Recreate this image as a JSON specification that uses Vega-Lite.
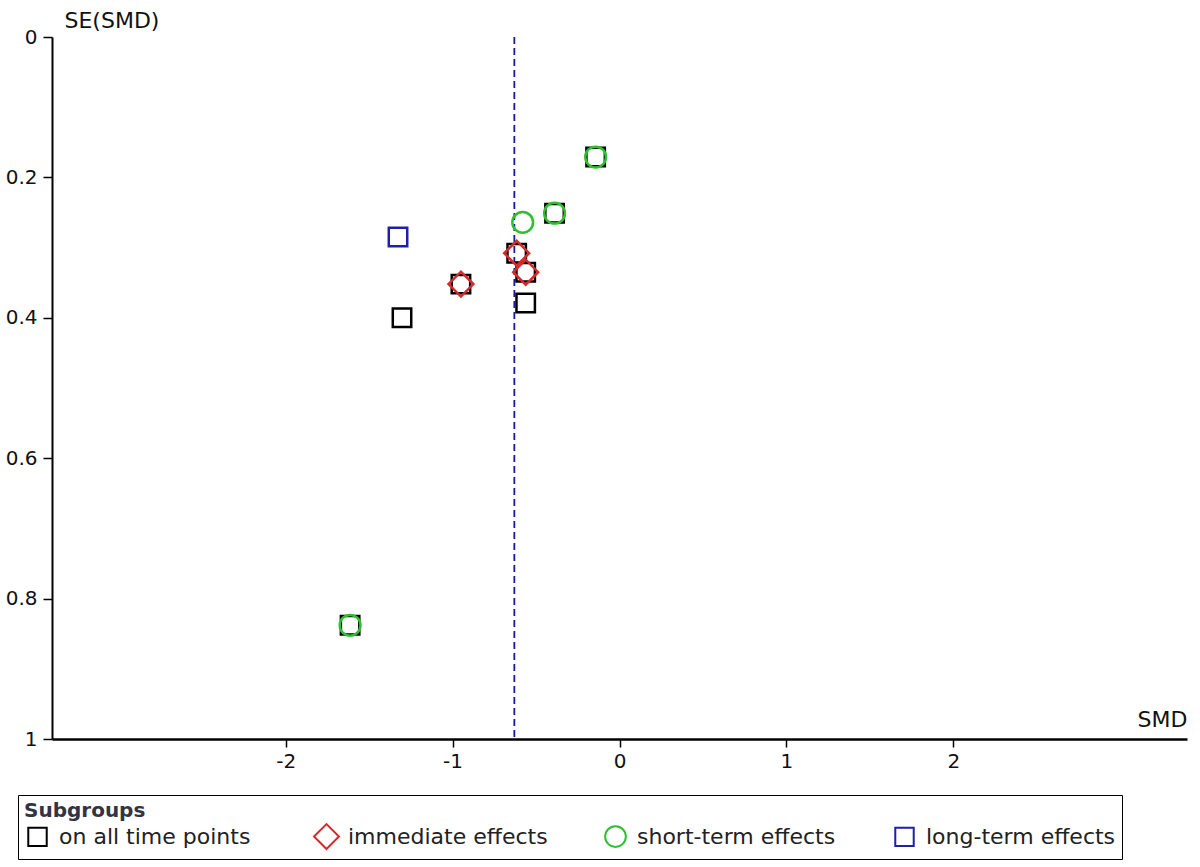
{
  "$schema": "https://vega.github.io/schema/vega-lite/v6.json",
  "width": 1135,
  "height": 702,
  "autosize": "none",
  "padding": {"left": 52, "top": 37, "right": 13, "bottom": 128},
  "background": "white",
  "config": {
    "view": {"stroke": null},
    "font": "DejaVu Sans",
    "axis": {
      "grid": false,
      "domainColor": "#000000",
      "domainWidth": 2,
      "tickColor": "#000000",
      "tickWidth": 1.5,
      "labelColor": "#111111",
      "titleColor": "#111111",
      "labelFont": "DejaVu Sans",
      "titleFont": "DejaVu Sans",
      "labelFontSize": 20,
      "titleFontSize": 22,
      "titleFontWeight": "normal"
    }
  },
  "datasets": {
    "studies": [
      {"group": "on all time points", "smd": -0.143, "se": 0.171},
      {"group": "on all time points", "smd": -0.389, "se": 0.251},
      {"group": "on all time points", "smd": -0.616, "se": 0.308},
      {"group": "on all time points", "smd": -0.562, "se": 0.335},
      {"group": "on all time points", "smd": -0.950, "se": 0.352},
      {"group": "on all time points", "smd": -0.562, "se": 0.379},
      {"group": "on all time points", "smd": -1.303, "se": 0.400},
      {"group": "on all time points", "smd": -1.614, "se": 0.838},
      {"group": "immediate effects", "smd": -0.616, "se": 0.308},
      {"group": "immediate effects", "smd": -0.562, "se": 0.335},
      {"group": "immediate effects", "smd": -0.950, "se": 0.352},
      {"group": "short-term effects", "smd": -0.143, "se": 0.171},
      {"group": "short-term effects", "smd": -0.389, "se": 0.251},
      {"group": "short-term effects", "smd": -0.580, "se": 0.264},
      {"group": "short-term effects", "smd": -1.614, "se": 0.838},
      {"group": "long-term effects", "smd": -1.327, "se": 0.285}
    ],
    "pooled": [{"smd": -0.63}]
  },
  "layer": [
    {
      "data": {"name": "pooled"},
      "mark": {"type": "rule", "color": "#1a1a9e", "strokeDash": [7, 4], "strokeWidth": 1.8},
      "encoding": {
        "x": {"field": "smd", "type": "quantitative", "scale": {"domain": [-3.4, 3.4], "nice": false, "zero": false}}
      }
    },
    {
      "data": {"name": "studies"},
      "mark": {"type": "point", "filled": false, "strokeWidth": 2.5, "opacity": 1},
      "encoding": {
        "x": {
          "field": "smd", "type": "quantitative",
          "scale": {"domain": [-3.4, 3.4], "nice": false, "zero": false},
          "axis": {
            "values": [-2, -1, 0, 1, 2],
            "labelExpr": "'' + datum.value",
            "tickSize": 8,
            "labelPadding": 4,
            "domainWidth": 2.5,
            "title": "SMD",
            "titleX": 1135,
            "titleY": -20,
            "titleAlign": "right",
            "titleBaseline": "middle",
            "titleAnchor": null
          }
        },
        "y": {
          "field": "se", "type": "quantitative",
          "scale": {"domain": [0, 1], "reverse": true, "nice": false, "zero": false},
          "axis": {
            "values": [0, 0.2, 0.4, 0.6, 0.8, 1],
            "labelExpr": "'' + datum.value",
            "tickSize": 9,
            "labelPadding": 6,
            "title": "SE(SMD)",
            "titleAngle": 0,
            "titleX": 12,
            "titleY": -17,
            "titleAlign": "left",
            "titleBaseline": "middle",
            "titleAnchor": null
          }
        },
        "color": {
          "field": "group", "type": "nominal",
          "scale": {
            "domain": ["on all time points", "immediate effects", "short-term effects", "long-term effects"],
            "range": ["#000000", "#d42a2a", "#2ec02e", "#1f1fa8"]
          },
          "legend": {
            "title": "Subgroups",
            "orient": "none",
            "legendX": -34,
            "legendY": 758,
            "direction": "horizontal",
            "columns": 4,
            "gridAlign": "all",
            "columnPadding": 51,
            "padding": 6,
            "strokeColor": "#000000",
            "titleFont": "DejaVu Sans",
            "titleFontSize": 20,
            "titleFontWeight": "bold",
            "titleColor": "#333344",
            "titlePadding": 2,
            "labelFont": "DejaVu Sans",
            "labelFontSize": 22,
            "labelColor": "#222222",
            "labelLimit": 400,
            "labelOffset": 8,
            "symbolStrokeWidth": 2
          }
        },
        "shape": {
          "field": "group", "type": "nominal",
          "scale": {
            "domain": ["on all time points", "immediate effects", "short-term effects", "long-term effects"],
            "range": ["square", "diamond", "circle", "square"]
          }
        },
        "size": {
          "field": "group", "type": "nominal",
          "scale": {
            "type": "ordinal",
            "domain": ["on all time points", "immediate effects", "short-term effects", "long-term effects"],
            "range": [340, 620, 430, 340]
          }
        }
      }
    }
  ]
}
